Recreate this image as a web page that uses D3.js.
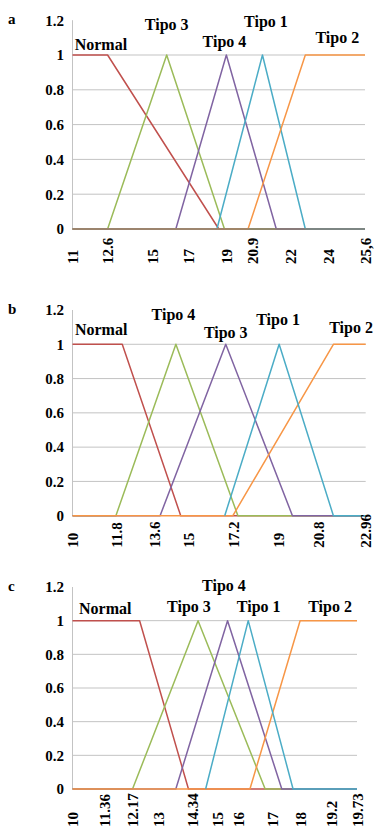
<!DOCTYPE html>
<html>
<head>
<meta charset="utf-8">
<script src="https://cdn.jsdelivr.net/npm/d3@7"></script>
<style>
    body { margin: 0; background: #fff; }
    svg text { font-family: "Liberation Serif", "Times New Roman", serif; font-weight: bold; fill: #000; }
</style>
</head>
<body>
<div id="chart"></div>
<script>
// DATA
// shared
const yTicks = [0, 0.2, 0.4, 0.6, 0.8, 1, 1.2];

// panel a
const aTickValues = [11, 12.6, 15, 17, 19, 20.9, 22, 24, 25.6];
const aTickLabels = ["11", "12.6", "15", "17", "19", "20.9", "22", "24", "25,6"];
const aNormal = [[11, 1], [12.6, 1], [18.6, 0], [25.6, 0]];
const aTipo3 = [[11, 0], [12.6, 0], [15.8, 1], [18.9, 0], [25.6, 0]];
const aTipo4 = [[11, 0], [16.3, 0], [19, 1], [21.6, 0], [25.6, 0]];
const aTipo1 = [[11, 0], [18.5, 0], [21.2, 1], [22.8, 0], [25.6, 0]];
const aTipo2 = [[11, 0], [20.6, 0], [22.8, 1], [25.6, 1]];
const aLabelX = [11.1, 15.8, 18.9, 21.3, 24.4];
const aLabelY = [1.03, 1.144, 1.048, 1.163, 1.067];

// panel b
const bTickValues = [10, 11.8, 13.6, 15, 17.2, 19, 20.8, 22.96];
const bTickLabels = ["10", "11.8", "13.6", "15", "17.2", "19", "20.8", "22.96"];
const bNormal = [[10, 1], [12.1, 1], [14.7, 0], [22.96, 0]];
const bTipo4 = [[10, 0], [11.8, 0], [14.5, 1], [17.4, 0], [22.96, 0]];
const bTipo3 = [[10, 0], [13.85, 0], [16.85, 1], [19.65, 0], [22.96, 0]];
const bTipo1 = [[16.8, 0], [19.05, 1], [21.5, 0], [22.96, 0]];
const bTipo2 = [[10, 0], [17.2, 0], [21.5, 1], [22.96, 1]];
const bLabelX = [10.1, 14.4, 16.85, 19.0, 22.3];
const bLabelY = [1.054, 1.142, 1.035, 1.113, 1.064];

// panel c
const cTickValues = [10, 11.36, 12.17, 13, 14.34, 15, 16, 17, 18, 19.2, 19.73];
const cTickLabels = ["10", "11.36", "12.17", "13", "14.34", "15", "16", "17", "18", "19.2", "19.73"];
const cNormal = [[10, 1], [12.4, 1], [14.2, 0], [19.73, 0]];
const cTipo3 = [[10, 0], [12.17, 0], [14.5, 1], [16.8, 0], [19.73, 0]];
const cTipo4 = [[10, 0], [13.7, 0], [15.5, 1], [17.35, 0], [19.73, 0]];
const cTipo1 = [[14.7, 0], [16.3, 1], [17.75, 0], [19.73, 0]];
const cTipo2 = [[10, 0], [16.35, 0], [18, 1], [19.73, 1]];
const cLabelX = [10.28, 14.22, 15.33, 16.61, 19.16];
const cLabelY = [1.04, 1.053, 1.178, 1.053, 1.053];

// LAYOUT
const W = 382, H = 834;
const left = 72.5;

// colours follow the curve's place from left to right, not its name
const color = d3.scaleOrdinal()
    .domain(d3.range(5))
    .range(["#c0504d", "#9bbb59", "#8064a2", "#4bacc6", "#f79646"]);

// the category axis is not evenly spaced: slot of each tick label along the axis (0..1)
// series: [name, points, colour slot]; listed in drawing order
const panels = [
    {
        letter: "a", top: 20.2, bottom: 229, right: 365, labelDrop: 35, zeroLine: "#8a7e72",
        ticks: aTickValues, tickLabels: aTickLabels,
        slots: [0, 0.120, 0.272, 0.397, 0.526, 0.614, 0.744, 0.874, 1],
        series: [["Normal", aNormal, 0], ["Tipo 3", aTipo3, 1], ["Tipo 4", aTipo4, 2], ["Tipo 1", aTipo1, 3], ["Tipo 2", aTipo2, 4]],
        labels: ["Normal", "Tipo 3", "Tipo 4", "Tipo 1", "Tipo 2"], labelX: aLabelX, labelY: aLabelY
    },
    {
        letter: "b", top: 310, bottom: 515.7, right: 365.7, labelDrop: 32, zeroLine: null,
        ticks: bTickValues, tickLabels: bTickLabels,
        slots: [0, 0.148, 0.278, 0.394, 0.547, 0.701, 0.837, 1],
        series: [["Normal", bNormal, 0], ["Tipo 4", bTipo4, 1], ["Tipo 3", bTipo3, 2], ["Tipo 2", bTipo2, 4], ["Tipo 1", bTipo1, 3]],
        labels: ["Normal", "Tipo 4", "Tipo 3", "Tipo 1", "Tipo 2"], labelX: bLabelX, labelY: bLabelY
    },
    {
        letter: "c", top: 587, bottom: 789, right: 357, labelDrop: 38, zeroLine: null,
        ticks: cTickValues, tickLabels: cTickLabels,
        slots: [0, 0.111, 0.211, 0.301, 0.420, 0.508, 0.582, 0.701, 0.800, 0.909, 1],
        series: [["Normal", cNormal, 0], ["Tipo 3", cTipo3, 1], ["Tipo 4", cTipo4, 2], ["Tipo 2", cTipo2, 4], ["Tipo 1", cTipo1, 3]],
        labels: ["Normal", "Tipo 3", "Tipo 4", "Tipo 1", "Tipo 2"], labelX: cLabelX, labelY: cLabelY
    }
];

const svg = d3.select("#chart")
    .append("svg")
        .attr("width", W)
        .attr("height", H)
        .attr("viewBox", [0, 0, W, H]);

svg.append("rect").attr("width", W).attr("height", H).attr("fill", "#fff");

panels.forEach(p => drawPanel(p));

// FUNCTIONS
function drawPanel(p) {
    const w = p.right - left;

    const x = d3.scaleLinear()
        .domain(p.ticks)
        .range(p.slots.map(s => left + s * w));
    const y = d3.scaleLinear()
        .domain([0, 1.2])
        .range([p.bottom, p.top]);

    const g = svg.append("g");

    // gridlines
    g.append("g")
        .selectAll("line")
        .data(yTicks.filter(d => d > 0 && d < 1.2))
        .join("line")
            .attr("x1", left)
            .attr("x2", p.right)
            .attr("y1", d => y(d))
            .attr("y2", d => y(d))
            .attr("stroke", "#c3c3c3")
            .attr("stroke-width", 1);

    // vertical axis line
    g.append("line")
        .attr("x1", left).attr("x2", left)
        .attr("y1", y(1.2)).attr("y2", y(0))
        .attr("stroke", "#c3c3c3");

    // y axis labels
    g.append("g")
        .attr("transform", `translate(${left},0)`)
        .call(d3.axisLeft(y).tickValues(yTicks).tickSize(0).tickPadding(8.5).tickFormat(d => String(d)))
        .call(a => a.select(".domain").remove())
        .call(a => a.selectAll("text")
            .attr("font-size", 15)
            .attr("font-family", null)
            .attr("fill", "#000"));

    // membership curves
    const line = d3.line()
        .x(d => x(d[0]))
        .y(d => y(d[1]));

    g.append("g")
        .selectAll("path")
        .data(p.series)
        .join("path")
            .attr("d", d => line(d[1]))
            .attr("fill", "none")
            .attr("stroke", d => color(d[2]))
            .attr("stroke-width", 1.5)
            .attr("stroke-linejoin", "round");

    if (p.zeroLine) {
        g.append("line")
            .attr("x1", left).attr("x2", p.right)
            .attr("y1", y(0)).attr("y2", y(0))
            .attr("stroke", p.zeroLine)
            .attr("stroke-width", 1.6);
    }

    // x axis labels, rotated
    g.append("g")
        .attr("transform", `translate(0,${y(0)})`)
        .call(d3.axisBottom(x).tickValues(p.ticks).tickSize(0).tickFormat((d, i) => p.tickLabels[i]))
        .call(a => a.select(".domain").remove())
        .call(a => a.selectAll("text")
            .attr("font-size", 15)
            .attr("font-family", null)
            .attr("fill", "#000")
            .attr("transform", "rotate(-90)")
            .attr("text-anchor", "start")
            .attr("x", -p.labelDrop)
            .attr("y", 0)
            .attr("dy", "0.35em"));

    // series names
    g.append("g")
        .selectAll("text")
        .data(p.labels)
        .join("text")
            .attr("x", (d, i) => x(p.labelX[i]))
            .attr("y", (d, i) => y(p.labelY[i]))
            .attr("text-anchor", d => d == "Normal" ? "start" : "middle")
            .attr("font-size", 16)
            .text(d => d);

    // panel letter
    g.append("text")
        .attr("x", 8)
        .attr("y", y(1.2) + 4)
        .attr("font-size", 15)
        .text(p.letter);
}
</script>
</body>
</html>
